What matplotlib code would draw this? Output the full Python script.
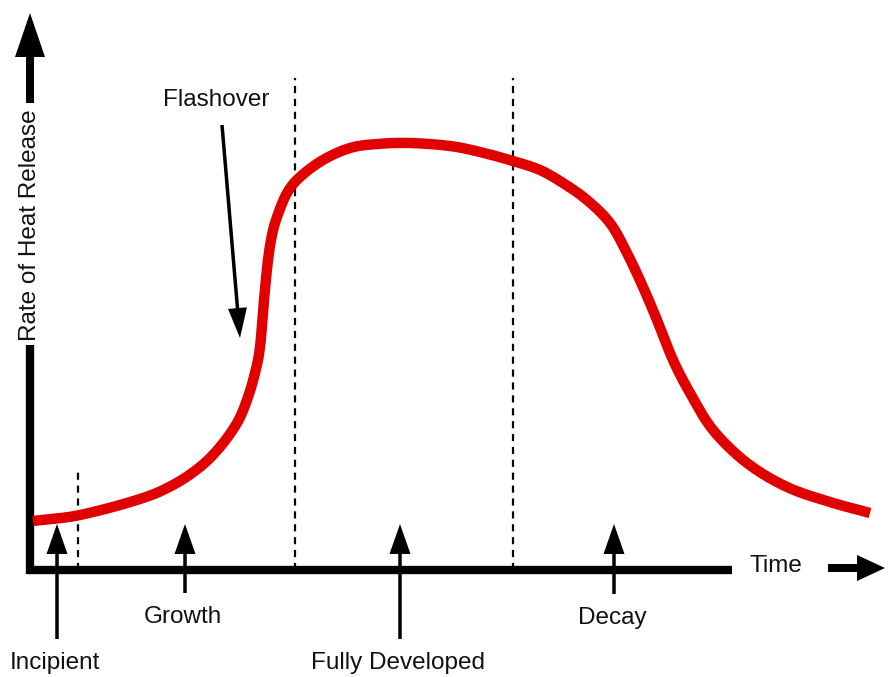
import matplotlib
matplotlib.use("Agg")
import matplotlib.pyplot as plt
import numpy as np

# ---- data (time, heat-release-rate) in diagram units; origin at the axes corner
curve_time = [3, 50, 110, 143, 170, 190, 207, 217, 225, 230, 234, 238, 242, 247, 257,
              270, 293, 320, 347, 380, 420, 450, 483, 510, 533, 557, 580, 597, 613,
              627, 643, 660, 683, 717, 757, 800, 840]
curve_hrr = [49, 55, 71, 85, 103, 123, 147, 170, 197, 223, 270, 310, 335, 353, 377,
             393, 410, 422, 426, 427, 424, 418, 409, 400, 387, 370, 347, 317, 283,
             250, 210, 177, 140, 107, 83, 68, 57]

phase_boundaries = [48, 265, 483]          # dashed lines
boundary_tops = [98, 492, 492]

phase_labels = ["Incipient", "Growth", "Fully Developed", "Decay"]
phase_arrow_x = [27, 155, 370, 584]
phase_label_y = [-93, -47, -93, -48]

x_label = "Time"
y_label = "Rate of Heat Release"
flashover_label = "Flashover"


def smooth(xs, ys, n=12):
    """Catmull-Rom rendering through the read points (drawing only)."""
    P = np.column_stack([xs, ys]).astype(float)
    P = np.vstack([P[0] - (P[1] - P[0]), P, P[-1] + (P[-1] - P[-2])])
    out = []
    t = np.linspace(0, 1, n, endpoint=False)[:, None]
    for i in range(1, len(P) - 2):
        p0, p1, p2, p3 = P[i - 1], P[i], P[i + 1], P[i + 2]
        seg = 0.5 * ((2 * p1) + (-p0 + p2) * t + (2 * p0 - 5 * p1 + 4 * p2 - p3) * t ** 2
                     + (-p0 + 3 * p1 - 3 * p2 + p3) * t ** 3)
        out.append(seg)
    out.append(P[-2][None, :])
    out = np.vstack(out)
    return out[:, 0], out[:, 1]


fig = plt.figure(figsize=(8.88, 6.77), dpi=100)
ax = fig.add_axes([0, 0, 1, 1])
ax.set_xlim(-30, 858)
ax.set_ylim(-107, 570)
ax.axis("off")

font = ["Liberation Sans", "DejaVu Sans"]
fs = 17.5
tc = "#111111"

# axes
ax.plot([0, 0], [-4, 225], color="black", lw=6, solid_capstyle="butt")
ax.plot([-3, 702], [0, 0], color="black", lw=6, solid_capstyle="butt")
ax.arrow(0, 467, 0, 90, width=8, head_width=30, head_length=44,
         length_includes_head=True, color="black", lw=0)
ax.arrow(798, 2, 57, 0, width=8, head_width=26, head_length=28,
         length_includes_head=True, color="black", lw=0)
ax.text(0, 345, y_label, rotation=90, ha="center", va="center",
        fontsize=fs, family=font, color=tc)
ax.text(746, 4, x_label, ha="center", va="center", fontsize=fs, family=font, color=tc)

# dashed phase boundaries
for bx, bt in zip(phase_boundaries, boundary_tops):
    ax.plot([bx, bx], [0, bt], color="black", lw=1.6, dashes=(3.2, 2.6))

# fire curve
sx, sy = smooth(curve_time, curve_hrr)
ax.plot(sx, sy, color="#e00000", lw=7.5, solid_capstyle="butt",
        solid_joinstyle="round")

# phase arrows and labels
for lab, axx, ly in zip(phase_labels, phase_arrow_x, phase_label_y):
    ax.arrow(axx, ly + 24, 0, 46 - (ly + 24), width=3.5, head_width=21,
             head_length=30, length_includes_head=True, color="black", lw=0)
    ax.text(axx - 2, ly, lab, ha="center", va="center", fontsize=fs,
            family=font, color=tc)

# flashover
ax.text(186, 470, flashover_label, ha="center", va="center", fontsize=fs,
        family=font, color=tc)
ax.arrow(192, 445, 18, -213, width=3.5, head_width=19, head_length=30,
         length_includes_head=True, color="black", lw=0)

fig.savefig("out.png", dpi=100, facecolor="white")
